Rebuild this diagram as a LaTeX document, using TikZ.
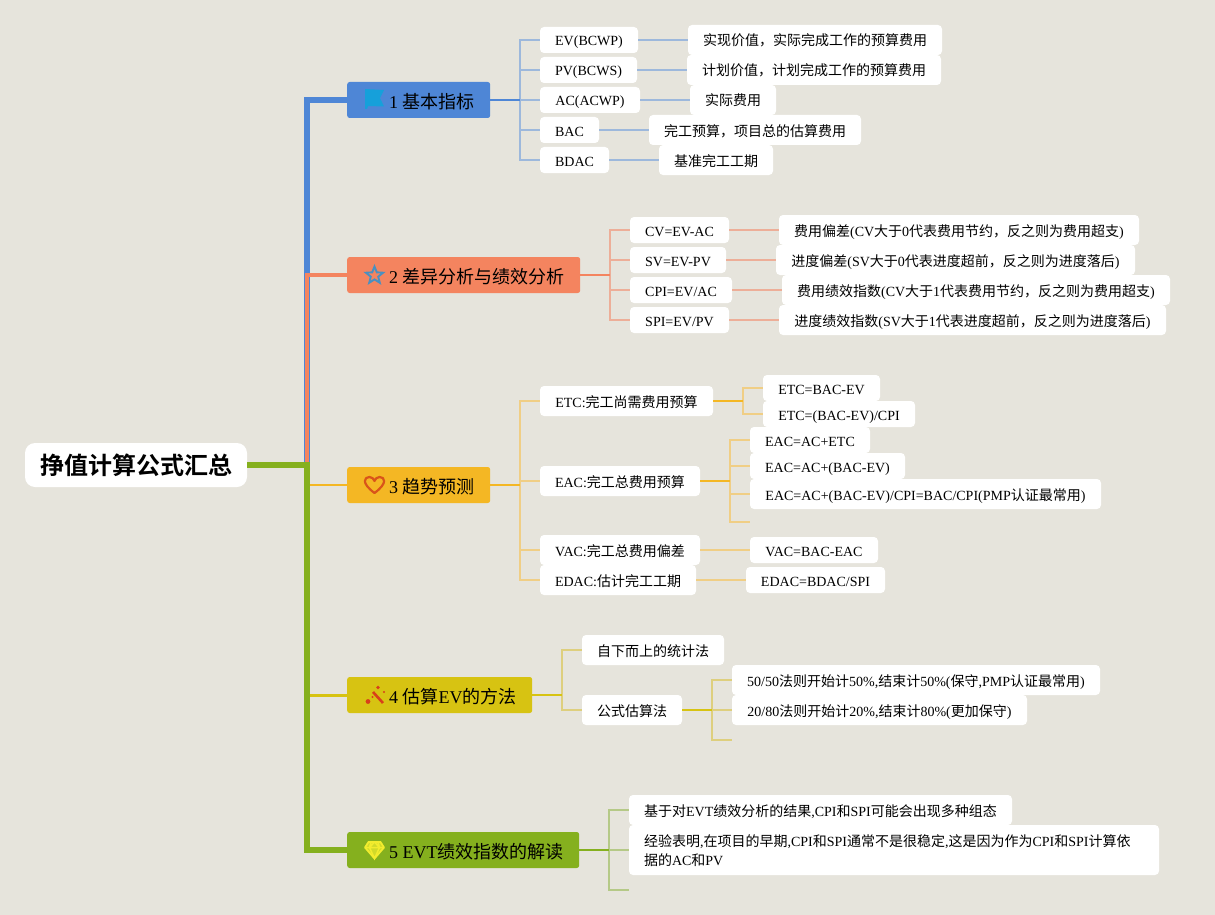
\documentclass[tikz,border=0pt]{standalone}
\usepackage{fontspec}
\setmainfont{Liberation Serif}
\newfontfamily\cjkf{Noto Sans CJK SC}
\newfontfamily\cjkb{Noto Sans CJK SC}[BoldFont={Noto Sans CJK SC Bold}]
\newcommand{\zh}[1]{{\cjkf #1}}
\newcommand{\lstrut}{\rule[-3pt]{0pt}{18pt}}
\usetikzlibrary{shapes.geometric,calc}
\definecolor{bgc}{HTML}{E6E4DC}
\definecolor{cblue}{HTML}{4E86D6}
\definecolor{cblueL}{HTML}{9DB8DC}
\definecolor{csal}{HTML}{F4845F}
\definecolor{csalL}{HTML}{EDAE98}
\definecolor{cyel}{HTML}{F4B724}
\definecolor{cyelL}{HTML}{F0CE85}
\definecolor{coli}{HTML}{D7C312}
\definecolor{coliL}{HTML}{DECF7E}
\definecolor{cgre}{HTML}{85B01E}
\definecolor{cgreL}{HTML}{B5C987}
\definecolor{iflag}{HTML}{16A0DA}
\definecolor{istar}{HTML}{4A90C0}
\definecolor{iheart}{HTML}{D9541A}
\definecolor{iwand}{HTML}{D8401A}
\definecolor{idia}{HTML}{F2EC2E}
\tikzset{
  x=1pt,y=-1pt,
  leafbox/.style={fill=white,rounded corners=4pt,inner sep=0pt,font=\fontsize{14}{19.5}\selectfont,text=black,align=center},
  topicbox/.style={rounded corners=2.5pt,inner sep=0pt,anchor=west},
  topictext/.style={anchor=west,inner sep=0pt,font=\fontsize{18}{22}\selectfont,text=black},
  leafline/.style={line width=1.6pt},
  stemline/.style={line width=2.2pt},
}
% name, x1,y1,x2,y2,text
\newcommand{\leaf}[6]{\path let \n1={#4-#2},\n2={#5-#3} in node[leafbox,minimum width=\n1 pt,minimum height=\n2 pt] (#1) at ({(#2+#4)/2},{(#3+#5)/2}) {\lstrut #6};}
\newcommand{\topic}[7]{\path node[topicbox,fill=#7,minimum width=#4pt-#2pt,minimum height=#5pt-#3pt] (#1) at (#2,{(#3+#5)/2}) {};\node[topictext] (#1t) at (#2+42,{(#3+#5)/2+1.5}) {#6};}
\begin{document}
\begin{tikzpicture}
\useasboundingbox[fill=bgc] (0,0) rectangle (1215,915);

% root
\node[fill=white,rounded corners=10pt,inner sep=0pt,minimum width=222pt,minimum height=44pt,font=\fontsize{24}{28}\selectfont\bfseries] (root) at (136,465) {\cjkb 挣值计算公式汇总};

% topics
\topic{t1}{347}{82}{490}{118}{1 \zh{基本指标}}{cblue}
\topic{t2}{347}{257}{580}{293}{2 \zh{差异分析与绩效分析}}{csal}
\topic{t3}{347}{467}{490}{503}{3 \zh{趋势预测}}{cyel}
\topic{t4}{347}{677}{532}{713}{4 \zh{估算}EV\zh{的方法}}{coli}
\topic{t5}{347}{832}{579}{868}{5 EVT\zh{绩效指数的解读}}{cgre}

% trunk
\coordinate (tr0) at (307,465);
\draw[cblue,line width=6pt] (t1.west) -- (307,100) -- (tr0);
\draw[csal,line width=3.4pt] (t2.west) -- (307,275) -- (tr0);
\draw[cyel,line width=2pt] (t3.west) -- (307,485) -- (tr0);
\draw[coli,line width=3pt] (t4.west) -- (307,695) -- (tr0);
\draw[cgre,line width=5.5pt] (t5.west) -- (307,850) -- (tr0) -- (root.east);

% leaves 1
\leaf{a1}{540}{27}{638}{53}{EV(BCWP)}
\leaf{a2}{540}{57}{637}{83}{PV(BCWS)}
\leaf{a3}{540}{87}{640}{113}{AC(ACWP)}
\leaf{a4}{540}{117}{599}{143}{BAC}
\leaf{a5}{540}{147}{609}{173}{BDAC}
\leaf{A1}{688}{25}{942}{55}{\zh{实现价值，实际完成工作的预算费用}}
\leaf{A2}{687}{55}{941}{85}{\zh{计划价值，计划完成工作的预算费用}}
\leaf{A3}{690}{85}{776}{115}{\zh{实际费用}}
\leaf{A4}{649}{115}{861}{145}{\zh{完工预算，项目总的估算费用}}
\leaf{A5}{659}{145}{773}{175}{\zh{基准完工工期}}
\coordinate (b1) at (520,100);
\foreach \n in {a1,a2,a3,a4,a5}{\draw[cblueL,leafline] (b1) |- (\n.west);}
\draw[cblue,stemline] (t1.east) -- (b1);
\foreach \n/\m in {a1/A1,a2/A2,a3/A3,a4/A4,a5/A5}{\draw[cblueL,leafline] (\n.east) -- (\m.west);}

% leaves 2
\leaf{b1n}{630}{217}{729}{243}{CV=EV-AC}
\leaf{b2n}{630}{247}{726}{273}{SV=EV-PV}
\leaf{b3n}{630}{277}{732}{303}{CPI=EV/AC}
\leaf{b4n}{630}{307}{729}{333}{SPI=EV/PV}
\leaf{B1}{779}{215}{1139}{245}{\zh{费用偏差}(CV\zh{大于}0\zh{代表费用节约，反之则为费用超支})}
\leaf{B2}{776}{245}{1135}{275}{\zh{进度偏差}(SV\zh{大于}0\zh{代表进度超前，反之则为进度落后})}
\leaf{B3}{782}{275}{1170}{305}{\zh{费用绩效指数}(CV\zh{大于}1\zh{代表费用节约，反之则为费用超支})}
\leaf{B4}{779}{305}{1166}{335}{\zh{进度绩效指数}(SV\zh{大于}1\zh{代表进度超前，反之则为进度落后})}
\coordinate (b2) at (610,275);
\foreach \n in {b1n,b2n,b3n,b4n}{\draw[csalL,leafline] (b2) |- (\n.west);}
\draw[csal,stemline] (t2.east) -- (b2);
\foreach \n/\m in {b1n/B1,b2n/B2,b3n/B3,b4n/B4}{\draw[csalL,leafline] (\n.east) -- (\m.west);}

% leaves 3
\leaf{c1}{540}{386}{713}{416}{ETC:\zh{完工尚需费用预算}}
\leaf{c2}{540}{466}{700}{496}{EAC:\zh{完工总费用预算}}
\leaf{c3}{540}{535}{700}{565}{VAC:\zh{完工总费用偏差}}
\leaf{c4}{540}{565}{696}{595}{EDAC:\zh{估计完工工期}}
\leaf{c11}{763}{375}{880}{401}{ETC=BAC-EV}
\leaf{c12}{763}{401}{915}{427}{ETC=(BAC-EV)/CPI}
\leaf{c21}{750}{427}{870}{453}{EAC=AC+ETC}
\leaf{c22}{750}{453}{905}{479}{EAC=AC+(BAC-EV)}
\leaf{c23}{750}{479}{1101}{509}{EAC=AC+(BAC-EV)/CPI=BAC/CPI(PMP\zh{认证最常用})}
\leaf{c31}{750}{537}{878}{563}{VAC=BAC-EAC}
\leaf{c41}{746}{567}{885}{593}{EDAC=BDAC/SPI}
\coordinate (b3) at (520,485);
\coordinate (b31) at (743,401);
\coordinate (b32) at (730,481);
\coordinate (e3) at (750,522);
\foreach \n in {c1,c2,c3,c4}{\draw[cyelL,leafline] (b3) |- (\n.west);}
\draw[cyel,stemline] (t3.east) -- (b3);
\foreach \n in {c11,c12}{\draw[cyelL,leafline] (b31) |- (\n.west);}
\draw[cyel,stemline] (c1.east) -- (b31);
\foreach \n in {c21,c22,c23}{\draw[cyelL,leafline] (b32) |- (\n.west);}
\draw[cyelL,leafline] (b32) |- (e3);
\draw[cyel,stemline] (c2.east) -- (b32);
\draw[cyelL,leafline] (c3.east) -- (c31.west);
\draw[cyelL,leafline] (c4.east) -- (c41.west);

% leaves 4
\leaf{d1}{582}{635}{724}{665}{\zh{自下而上的统计法}}
\leaf{d2}{582}{695}{682}{725}{\zh{公式估算法}}
\leaf{d21}{732}{665}{1100}{695}{50/50\zh{法则开始计}50\%,\zh{结束计}50\%(\zh{保守},PMP\zh{认证最常用})}
\leaf{d22}{732}{695}{1027}{725}{20/80\zh{法则开始计}20\%,\zh{结束计}80\%(\zh{更加保守})}
\coordinate (b4) at (562,695);
\coordinate (b41) at (712,710);
\coordinate (e4) at (732,740);
\foreach \n in {d1,d2}{\draw[coliL,leafline] (b4) |- (\n.west);}
\draw[coli,stemline] (t4.east) -- (b4);
\foreach \n in {d21,d22}{\draw[coliL,leafline] (b41) |- (\n.west);}
\draw[coliL,leafline] (b41) |- (e4);
\draw[coli,stemline] (d2.east) -- (b41);

% leaves 5
\leaf{e1}{629}{795}{1012}{825}{\zh{基于对}EVT\zh{绩效分析的结果},CPI\zh{和}SPI\zh{可能会出现多种组态}}
\path node[leafbox,align=left,minimum width=530pt,minimum height=50pt,text width=500pt] (e2) at (894,850) {\lstrut\zh{经验表明},\zh{在项目的早期},CPI\zh{和}SPI\zh{通常不是很稳定},\zh{这是因为作为}CPI\zh{和}SPI\zh{计算依}\\\lstrut\zh{据的}AC\zh{和}PV};
\coordinate (b5) at (609,850);
\coordinate (e5) at (629,890);
\draw[cgreL,leafline] (b5) |- (e1.west);
\draw[cgreL,leafline] (b5) |- (e5);
\draw[cgreL,leafline] (b5) -- (e2.west);
\draw[cgre,stemline] (t5.east) -- (b5);

% icons
\fill[iflag] (365,89) -- (384,90) -- (380,98) -- (384,106.5) -- (368,106) -- (367,109) -- (365,109) -- cycle;
\node[star,star points=5,star point ratio=2.3,draw=istar,line width=1.9pt,fill=none,minimum size=18pt,inner sep=0pt] (ic2) at (374.5,275.5) {};
\draw[iheart,line width=2.2pt,line join=round] (374.5,493) .. controls (361,483) and (364,477) .. (369.5,477) .. controls (372,477) and (374,479) .. (374.5,481) .. controls (375,479) and (377,477) .. (379.5,477) .. controls (385,477) and (388,483) .. (374.5,493) -- cycle;
\draw[iwand,line width=2.6pt] (373,692) -- (383,703);
\fill[iwand] (378,687.5) circle (1.8pt) (368,701.5) circle (2.4pt) (372.5,697) circle (1.2pt) (384,692) circle (1.2pt);
\fill[idia!70!cgre] (368.5,842) -- (380.5,842) -- (384,847.5) -- (374.5,858.5) -- (365,847.5) -- cycle;
\draw[idia,line width=1.8pt,line join=round] (368.5,842) -- (380.5,842) -- (384,847.5) -- (374.5,858.5) -- (365,847.5) -- cycle;
\draw[idia,line width=1.5pt] (365,847.5) -- (384,847.5) (371,842) -- (369.5,847.5) -- (374.5,858.5) -- (379.5,847.5) -- (378,842) (374.5,842) -- (369.5,847.5) (374.5,842) -- (379.5,847.5);
\end{tikzpicture}
\end{document}
